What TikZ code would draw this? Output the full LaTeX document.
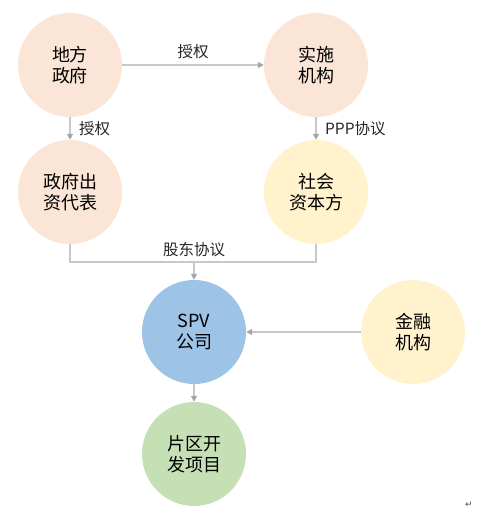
\documentclass[tikz,border=0pt]{standalone}
\usepackage{fontspec}
\setmainfont{Noto Sans CJK SC}
\newfontfamily\symfont{DejaVu Sans}
\usetikzlibrary{arrows.meta,positioning}
\definecolor{peach}{RGB}{251, 229, 214}
\definecolor{cream}{RGB}{255, 242, 204}
\definecolor{skyblue}{RGB}{157, 195, 230}
\definecolor{leaf}{RGB}{197, 224, 180}
\definecolor{linegray}{RGB}{200, 200, 200}
\definecolor{tipgray}{RGB}{166, 166, 166}

\begin{document}
\begin{tikzpicture}[x=1pt, y=-1pt,
    party/.style={circle, minimum size=104pt, inner sep=0pt, align=center,
        font=\fontsize{18}{21}\selectfont},
    link/.style={draw=linegray, line width=1.6pt,
        -{Triangle[length=6pt, width=6pt, color=tipgray]}},
    tag/.style={font=\fontsize{15.5}{18}\selectfont, text=black!85}]
    \useasboundingbox (0,0) rectangle (479,520);

    % circles
    \node[party, fill=peach] (gov) at (70,65) {地方\\政府};
    \node[party, fill=peach] (agency) at (316,65) {实施\\机构};
    \node[party, fill=peach] (govrep) at (70,192) {政府出\\资代表};
    \node[party, fill=cream] (capital) at (316,192) {社会\\资本方};
    \node[party, fill=skyblue] (spv) at (194,332) {SPV\\公司};
    \node[party, fill=cream] (finance) at (413,332) {金融\\机构};
    \node[party, fill=leaf] (project) at (194,454) {片区开\\发项目};

    % connectors
    \draw[link] (gov) -- node[tag, above=2pt] {授权} (agency);
    \draw[link] (gov) -- node[tag, right=5pt] {授权} (govrep);
    \draw[link] (agency) -- node[tag, right=5pt] {PPP协议} (capital);

    \coordinate (join) at (194,262);
    \draw[draw=linegray, line width=1.6pt] (govrep.south) |- (join) -| (capital.south);
    \node[tag, above=2pt] (shareholder) at (join) {股东协议};
    \draw[link] (join) -- (spv);

    \draw[link] (finance) -- (spv);
    \draw[link] (spv) -- (project);

    \node[font=\symfont\fontsize{9}{10}\selectfont, text=black!70] (mark) at (469,505) {↵};
\end{tikzpicture}
\end{document}
